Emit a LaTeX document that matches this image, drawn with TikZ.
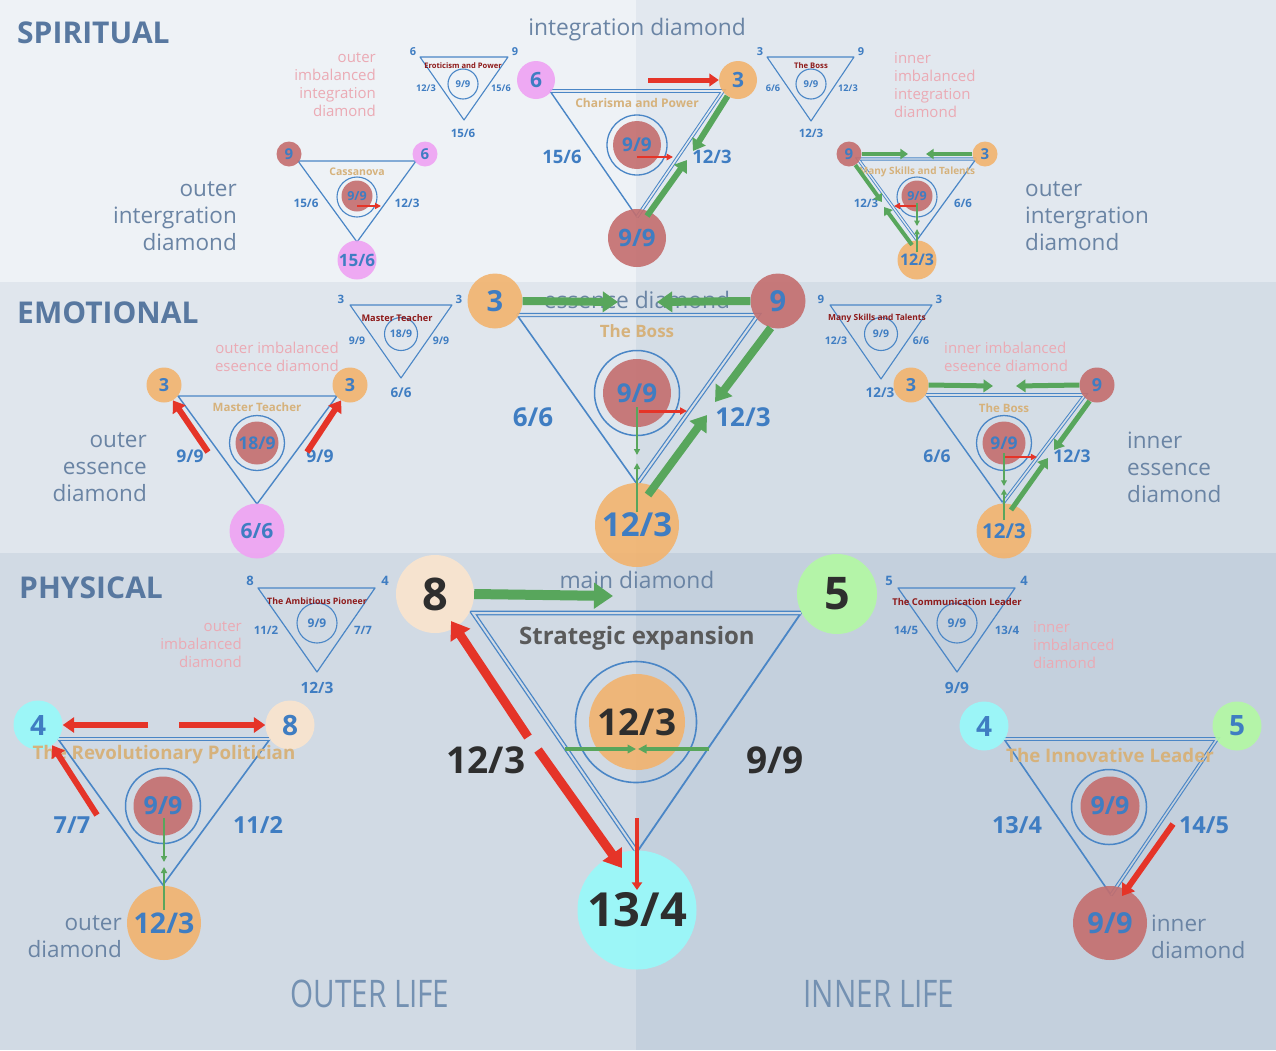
\documentclass[tikz,border=0pt]{standalone}
\usepackage{fontspec}
\setmainfont{Open Sans}
\usetikzlibrary{calc,arrows.meta}
% band colours
\definecolor{bg-sl}{HTML}{EEF2F6}
\definecolor{bg-sr}{HTML}{E2E8EF}
\definecolor{bg-el}{HTML}{E0E6ED}
\definecolor{bg-er}{HTML}{D4DDE6}
\definecolor{bg-pl}{HTML}{D1DAE4}
\definecolor{bg-pr}{HTML}{C4D0DD}
% ink
\definecolor{dm-blue}{HTML}{3F7DC2}
\definecolor{dm-line}{HTML}{4A86C6}
\definecolor{dm-head}{HTML}{5878A0}
\definecolor{dm-side}{HTML}{6A84A4}
\definecolor{dm-life}{HTML}{7491B2}
\definecolor{dm-pinktext}{HTML}{EBAAB4}
\definecolor{dm-gold}{HTML}{D6B27C}
\definecolor{dm-title}{HTML}{8E1A1A}
\definecolor{dm-dark}{HTML}{2E2E2E}
\definecolor{dm-gray}{HTML}{5A5A5A}
% dots
\definecolor{dm-pink}{HTML}{EFA2F3}
\definecolor{dm-orange}{HTML}{F2B36E}
\definecolor{dm-rose}{HTML}{C46E6E}
\definecolor{dm-cyan}{HTML}{97FAFA}
\definecolor{dm-lime}{HTML}{B3F9A3}
\definecolor{dm-peach}{HTML}{FBE5CD}
\definecolor{dm-red}{HTML}{E53428}
\definecolor{dm-green}{HTML}{58A65C}
\newcommand\fsz[1]{\fontsize{#1}{#1}\selectfont}
\tikzset{
  triedge/.style={draw=dm-line, line width=1.4pt, line join=round},
  edgepair/.style={draw=dm-line, line width=1pt, double=#1, double distance=1.6pt},
  vtx/.style={circle, inner sep=0pt, minimum size=#1, fill opacity=0.9, text opacity=1},
  hubring/.style={circle, draw=dm-line, line width=1.3pt, inner sep=0pt, minimum size=#1},
  val/.style={text=dm-blue, font=\bfseries\fsz{#1}},
  darkval/.style={text=dm-dark, font=\bfseries\fsz{#1}},
  goldname/.style={text=dm-gold, font=\bfseries\fsz{#1}},
  tinyname/.style={text=dm-title, font=\bfseries\fsz{#1}},
  sectname/.style={text=dm-head, font=\bfseries\fsz{30}, anchor=west, inner sep=0pt},
  headname/.style={text=dm-side, font=\fsz{22.8}},
  sidename/.style={text=dm-side, font=\fontsize{22.5}{27}\selectfont, inner sep=0pt},
  faded/.style={text=dm-pinktext, font=\fontsize{15}{18}\selectfont, inner sep=0pt},
  lifename/.style={text=dm-life, font=\fsz{38}},
  garr/.style={draw=dm-green, line width=#1, -{Triangle[length=0pt 1.9, width=0pt 2.5]}},
  rarr/.style={draw=dm-red, line width=#1, -{Triangle[length=0pt 1.9, width=0pt 2.5]}},
  gtick/.style={draw=dm-green, line width=#1, -{Triangle[length=4pt 1, width=4pt 1]}},
  rtick/.style={draw=dm-red, line width=#1, -{Triangle[length=4pt 1, width=4pt 1]}},
}
\begin{document}
\begin{tikzpicture}[x=1pt, y=-1pt]
% bands
\fill[bg-sl] (0,0) rectangle (636,282);
\fill[bg-sr] (636,0) rectangle (1276,282);
\fill[bg-el] (0,282) rectangle (636,553);
\fill[bg-er] (636,282) rectangle (1276,553);
\fill[bg-pl] (0,553) rectangle (636,1050);
\fill[bg-pr] (636,553) rectangle (1276,1050);
\useasboundingbox (0,0) rectangle (1276,1050);

% headings and side labels
\node[sectname] (spiritual) at (17,33) {SPIRITUAL};
\node[sectname] (emotional) at (17,313) {EMOTIONAL};
\node[sectname] (physical) at (19,588) {PHYSICAL};
\node[headname] (integration) at (637,30) {integration diamond};
\node[headname] (essence) at (637,300) {essence diamond};
\node[headname] (maindia) at (637,580) {main diamond};
\node[sidename, align=right, anchor=east] (sl-side) at (237,216) {outer\\intergration\\diamond};
\node[sidename, align=left, anchor=west] (sr-side) at (1025,216) {outer\\intergration\\diamond};
\node[sidename, align=right, anchor=east] (el-side) at (147,467) {outer\\essence\\diamond};
\node[sidename, align=left, anchor=west] (er-side) at (1127,467) {inner\\essence\\diamond};
\node[sidename, align=right, anchor=east] (pl-side) at (122,937) {outer\\diamond};
\node[sidename, align=left, anchor=west] (pr-side) at (1151,937) {inner\\diamond};
\node[faded, align=right, anchor=east] (sl-imb) at (376,85) {outer\\imbalanced\\integration\\diamond};
\node[faded, align=left, anchor=west] (sr-imb) at (894,85) {inner\\imbalanced\\integration\\diamond};
\node[faded, align=right, anchor=east] (el-imb) at (339,357) {outer imbalanced\\eseence diamond};
\node[faded, align=left, anchor=west] (er-imb) at (944,357) {inner imbalanced\\eseence diamond};
\node[faded, align=right, anchor=east] (pl-imb) at (242,645) {outer\\imbalanced\\diamond};
\node[faded, align=left, anchor=west] (pr-imb) at (1033,645) {inner\\imbalanced\\diamond};
\node[lifename] (outerlife) at (370,994) {\scalebox{0.78}[1]{OUTER LIFE}};
\node[lifename] (innerlife) at (879,994) {\scalebox{0.78}[1]{INNER LIFE}};

%% SPIRITUAL
% Eroticism and Power
\coordinate (ero-a) at (420,57); \coordinate (ero-b) at (508,57); \coordinate (ero-c) at (464,120);
\draw[triedge, line width=1.1pt] (ero-a) -- (ero-b) -- (ero-c) -- cycle;
\node[hubring=30pt, line width=1.1pt, val=9.5] (ero-hub) at (463,84) {9/9};
\node[tinyname=7.6] (ero-name) at (463,66) {Eroticism and Power};
\node[val=11] (ero-6) at (413,52) {6};
\node[val=11] (ero-9) at (515,52) {9};
\node[val=9.2] (ero-l) at (426,88) {12/3};
\node[val=9.2] (ero-r) at (501,88) {15/6};
\node[val=11.5] (ero-bot) at (463,133) {15/6};

% Cassanova
\coordinate (cas-a) at (298,161); \coordinate (cas-b) at (416,161); \coordinate (cas-c) at (357,242);
\draw[triedge, line width=1.2pt] (cas-a) -- (cas-b) -- (cas-c) -- cycle;
\node[hubring=40pt, line width=1.1pt] (cas-ring) at (357,197) {};
\node[vtx=31pt, fill=dm-rose, val=12.5] (cas-hub) at (357,196) {9/9};
\node[vtx=25pt, fill=dm-rose, val=15] (cas-9) at (289,154) {9};
\node[vtx=25pt, fill=dm-pink, val=15] (cas-6) at (425,154) {6};
\node[vtx=39pt, fill=dm-pink, val=17] (cas-156) at (357,260) {15/6};
\node[goldname=10.5] (cas-name) at (357,172) {Cassanova};
\node[val=11.7] (cas-l) at (306,203) {15/6};
\node[val=11.7] (cas-r) at (407,203) {12/3};
\coordinate (cas-r1a) at (357,206); \coordinate (cas-r1b) at (381,206);
\draw[rtick=2pt] (cas-r1a) -- (cas-r1b);

% Charisma and Power
\coordinate (cha-a) at (550,91); \coordinate (cha-b) at (723,91); \coordinate (cha-c) at (637,217);
\draw[triedge] (cha-a) -- (cha-b) -- (cha-c) -- cycle;
\draw[edgepair=bg-sr] (cha-a) -- (cha-b) -- (cha-c);
\node[hubring=60pt] (cha-ring) at (637,145) {};
\node[vtx=48pt, fill=dm-rose, val=19] (cha-hub) at (637,145) {9/9};
\node[vtx=38pt, fill=dm-pink, val=21] (cha-6) at (536,80) {6};
\node[vtx=38pt, fill=dm-orange, val=21] (cha-3) at (738,80) {3};
\node[vtx=58pt, fill=dm-rose, val=24] (cha-99) at (637,238) {9/9};
\node[goldname=12] (cha-name) at (637,103) {Charisma and Power};
\node[val=18.5] (cha-l) at (562,157) {15/6};
\node[val=18.5] (cha-r) at (712,157) {12/3};
\coordinate (cha-r1) at (648,80);
\coordinate (cha-g1) at (693,151);
\coordinate (cha-g2a) at (647,216); \coordinate (cha-g2b) at (687,160);
\coordinate (cha-r2a) at (637,157); \coordinate (cha-r2b) at (673,157);
\draw[rarr=5pt] (cha-r1) -- (cha-3.west);
\draw[garr=6pt] (cha-3.237) -- (cha-g1);
\draw[garr=6pt] (cha-g2a) -- (cha-g2b);
\draw[rtick=2.5pt] (cha-r2a) -- (cha-r2b);

% The Boss (small)
\coordinate (bss-a) at (767,57); \coordinate (bss-b) at (854,57); \coordinate (bss-c) at (811,121);
\draw[triedge, line width=1.1pt] (bss-a) -- (bss-b) -- (bss-c) -- cycle;
\node[hubring=30pt, line width=1.1pt, val=9.5] (bss-hub) at (811,84) {9/9};
\node[tinyname=7.7] (bss-name) at (811,66) {The Boss};
\node[val=11] (bss-3) at (760,52) {3};
\node[val=11] (bss-9) at (861,52) {9};
\node[val=9.2] (bss-l) at (773,88) {6/6};
\node[val=9.2] (bss-r) at (848,88) {12/3};
\node[val=11.5] (bss-bot) at (811,133) {12/3};

% Many Skills and Talents
\coordinate (mst-a) at (858,159); \coordinate (mst-b) at (976,159); \coordinate (mst-c) at (917,240);
\draw[triedge, line width=1.2pt] (mst-a) -- (mst-b) -- (mst-c) -- cycle;
\draw[edgepair=bg-sr, line width=0.9pt, double distance=1.4pt] (mst-c) -- (mst-a) -- (mst-b);
\node[hubring=40pt, line width=1.1pt] (mst-ring) at (917,197) {};
\node[vtx=31pt, fill=dm-rose, val=12.5] (mst-hub) at (917,196) {9/9};
\node[vtx=25pt, fill=dm-rose, val=15] (mst-9) at (849,154) {9};
\node[vtx=25pt, fill=dm-orange, val=15] (mst-3) at (985,154) {3};
\node[vtx=39pt, fill=dm-orange, val=16] (mst-123) at (917,260) {12/3};
\node[goldname=10] (mst-name) at (917,172) {Many Skills and Talents};
\node[val=11.5] (mst-l) at (866,203) {12/3};
\node[val=11.5] (mst-r) at (963,203) {6/6};
\coordinate (mst-g1) at (908,154); \coordinate (mst-g2) at (926,154);
\coordinate (mst-g3) at (882,202);
\coordinate (mst-g4a) at (912,245); \coordinate (mst-g4b) at (884,207);
\coordinate (mst-r1a) at (916,206); \coordinate (mst-r1b) at (894,206);
\coordinate (mst-t1a) at (917,203); \coordinate (mst-t1b) at (917,226);
\coordinate (mst-t2a) at (917,252); \coordinate (mst-t2b) at (917,229);
\draw[garr=4pt] (mst-9.east) -- (mst-g1);
\draw[garr=4pt] (mst-3.west) -- (mst-g2);
\draw[garr=4pt] (mst-9.300) -- (mst-g3);
\draw[garr=4pt] (mst-g4a) -- (mst-g4b);
\draw[rtick=2pt] (mst-r1a) -- (mst-r1b);
\draw[gtick=1.4pt] (mst-t1a) -- (mst-t1b);
\draw[gtick=1.4pt] (mst-t2a) -- (mst-t2b);

%% EMOTIONAL
% Master Teacher (small)
\coordinate (mts-a) at (350,305); \coordinate (mts-b) at (452,305); \coordinate (mts-c) at (401,378);
\draw[triedge, line width=1.1pt] (mts-a) -- (mts-b) -- (mts-c) -- cycle;
\node[hubring=33pt, line width=1.1pt, val=10.5] (mts-hub) at (401,334) {18/9};
\node[tinyname=9.2] (mts-name) at (397,318) {Master Teacher};
\node[val=11.5] (mts-3a) at (341,299) {3};
\node[val=11.5] (mts-3b) at (459,299) {3};
\node[val=10.5] (mts-l) at (357,341) {9/9};
\node[val=10.5] (mts-r) at (441,341) {9/9};
\node[val=13.5] (mts-bot) at (401,393) {6/6};

% Master Teacher
\coordinate (mtb-a) at (178,396); \coordinate (mtb-b) at (337,396); \coordinate (mtb-c) at (257,504);
\draw[triedge] (mtb-a) -- (mtb-b) -- (mtb-c) -- cycle;
\node[hubring=55pt] (mtb-ring) at (257,443) {};
\node[vtx=43pt, fill=dm-rose, val=17.5] (mtb-hub) at (257,443) {18/9};
\node[vtx=35pt, fill=dm-orange, val=18] (mtb-3a) at (164,385) {3};
\node[vtx=35pt, fill=dm-orange, val=18] (mtb-3b) at (350,385) {3};
\node[vtx=55pt, fill=dm-pink, val=21] (mtb-66) at (257,531) {6/6};
\node[goldname=11.5] (mtb-name) at (257,407) {Master Teacher};
\node[val=17.5] (mtb-l) at (190,456) {9/9};
\node[val=17.5] (mtb-r) at (320,456) {9/9};
\coordinate (mtb-r1) at (208,452); \coordinate (mtb-r2) at (307,452);
\draw[rarr=6pt] (mtb-r1) -- (mtb-3a.300);
\draw[rarr=6pt] (mtb-r2) -- (mtb-3b.240);

% The Boss
\coordinate (bos-a) at (517,315); \coordinate (bos-b) at (758,315); \coordinate (bos-c) at (637,484);
\draw[triedge, line width=1.6pt] (bos-a) -- (bos-b) -- (bos-c) -- cycle;
\draw[edgepair=bg-er, line width=1.2pt, double distance=2pt] (bos-a) -- (bos-b) -- (bos-c);
\node[hubring=85pt, line width=1.5pt] (bos-ring) at (637,393) {};
\node[vtx=68pt, fill=dm-rose, val=26] (bos-hub) at (637,393) {9/9};
\node[vtx=55pt, fill=dm-orange, val=29] (bos-3) at (495,301) {3};
\node[vtx=55pt, fill=dm-rose, val=29] (bos-9) at (778,301) {9};
\node[vtx=84pt, fill=dm-orange, val=33] (bos-123) at (637,525) {12/3};
\node[goldname=17] (bos-name) at (637,331) {The Boss};
\node[val=26] (bos-l) at (533,417) {6/6};
\node[val=26] (bos-r) at (743,417) {12/3};
\coordinate (bos-g1) at (618,302); \coordinate (bos-g2) at (657,302);
\coordinate (bos-g3) at (715,402);
\coordinate (bos-g4a) at (648,495); \coordinate (bos-g4b) at (707,415);
\coordinate (bos-r1a) at (639,411); \coordinate (bos-r1b) at (687,411);
\coordinate (bos-t1a) at (637,407); \coordinate (bos-t1b) at (637,455);
\coordinate (bos-t2a) at (637,512); \coordinate (bos-t2b) at (637,463);
\draw[garr=8pt] (bos-3.east) -- (bos-g1);
\draw[garr=8pt] (bos-9.west) -- (bos-g2);
\draw[garr=8pt] (bos-9.255) -- (bos-g3);
\draw[garr=8pt] (bos-g4a) -- (bos-g4b);
\draw[rtick=3pt] (bos-r1a) -- (bos-r1b);
\draw[gtick=2pt] (bos-t1a) -- (bos-t1b);
\draw[gtick=2pt] (bos-t2a) -- (bos-t2b);

% Many Skills and Talents (small)
\coordinate (mse-a) at (830,305); \coordinate (mse-b) at (932,305); \coordinate (mse-c) at (881,379);
\draw[triedge, line width=1.1pt] (mse-a) -- (mse-b) -- (mse-c) -- cycle;
\node[hubring=33pt, line width=1.1pt, val=10.5] (mse-hub) at (881,334) {9/9};
\node[tinyname=8.4] (mse-name) at (877,318) {Many Skills and Talents};
\node[val=11.5] (mse-9) at (821,299) {9};
\node[val=11.5] (mse-3) at (939,299) {3};
\node[val=10.5] (mse-l) at (836,341) {12/3};
\node[val=10.5] (mse-r) at (921,341) {6/6};
\node[val=13.5] (mse-bot) at (880,393) {12/3};

% The Boss (inner)
\coordinate (bor-a) at (926,395); \coordinate (bor-b) at (1085,395); \coordinate (bor-c) at (1003,503);
\draw[triedge] (bor-a) -- (bor-b) -- (bor-c) -- cycle;
\draw[edgepair=bg-er] (bor-a) -- (bor-b) -- (bor-c);
\node[hubring=55pt] (bor-ring) at (1004,443) {};
\node[vtx=43pt, fill=dm-rose, val=17.5] (bor-hub) at (1004,443) {9/9};
\node[vtx=35pt, fill=dm-orange, val=18] (bor-3) at (911,385) {3};
\node[vtx=35pt, fill=dm-rose, val=18] (bor-9) at (1097,385) {9};
\node[vtx=55pt, fill=dm-orange, val=20.5] (bor-123) at (1004,531) {12/3};
\node[goldname=11.5] (bor-name) at (1004,408) {The Boss};
\node[val=17.5] (bor-l) at (937,456) {6/6};
\node[val=17.5] (bor-r) at (1072,456) {12/3};
\coordinate (bor-g1) at (993,386); \coordinate (bor-g2) at (1016,386);
\coordinate (bor-g3) at (1054,450);
\coordinate (bor-g4a) at (1011,510); \coordinate (bor-g4b) at (1048,458);
\coordinate (bor-r1a) at (1005,457); \coordinate (bor-r1b) at (1037,457);
\coordinate (bor-t1a) at (1004,453); \coordinate (bor-t1b) at (1004,486);
\coordinate (bor-t2a) at (1004,520); \coordinate (bor-t2b) at (1004,489);
\draw[garr=5pt] (bor-3.east) -- (bor-g1);
\draw[garr=5pt] (bor-9.west) -- (bor-g2);
\draw[garr=5pt] (bor-9.245) -- (bor-g3);
\draw[garr=5pt] (bor-g4a) -- (bor-g4b);
\draw[rtick=2.2pt] (bor-r1a) -- (bor-r1b);
\draw[gtick=1.6pt] (bor-t1a) -- (bor-t1b);
\draw[gtick=1.6pt] (bor-t2a) -- (bor-t2b);

%% PHYSICAL
% The Ambitious Pioneer (small)
\coordinate (amb-a) at (258,588); \coordinate (amb-b) at (375,588); \coordinate (amb-c) at (317,672);
\draw[triedge, line width=1.2pt] (amb-a) -- (amb-b) -- (amb-c) -- cycle;
\node[hubring=40pt, line width=1.1pt, val=12] (amb-hub) at (317,623) {9/9};
\node[tinyname=8.8] (amb-name) at (317,601) {The Ambitious Pioneer};
\node[val=13] (amb-8) at (250,581) {8};
\node[val=13] (amb-4) at (385,581) {4};
\node[val=11.5] (amb-l) at (266,630) {11/2};
\node[val=11.5] (amb-r) at (363,630) {7/7};
\node[val=15.5] (amb-bot) at (317,688) {12/3};

% The Revolutionary Politician
\coordinate (rev-a) at (58,739); \coordinate (rev-b) at (270,739); \coordinate (rev-c) at (163,885);
\draw[triedge, line width=1.6pt] (rev-a) -- (rev-b) -- (rev-c) -- cycle;
\draw[edgepair=bg-pl, line width=1.1pt] (rev-a) -- (rev-b);
\node[hubring=75pt, line width=1.5pt] (rev-ring) at (163,806) {};
\node[vtx=59pt, fill=dm-rose, val=25] (rev-hub) at (163,806) {9/9};
\node[vtx=49pt, fill=dm-cyan, val=28] (rev-4) at (38,725) {4};
\node[vtx=49pt, fill=dm-peach, val=28] (rev-8) at (290,725) {8};
\node[vtx=74pt, fill=dm-orange, val=28.5] (rev-123) at (164,923) {12/3};
\node[goldname=18.7] (rev-name) at (164,755) {The Revolutionary Politician};
\node[val=23.5] (rev-l) at (72,825) {7/7};
\node[val=23.5] (rev-r) at (258,825) {11/2};
\coordinate (rev-r1) at (148,725); \coordinate (rev-r2) at (179,725);
\coordinate (rev-r3) at (97,815);
\coordinate (rev-t1a) at (164,818); \coordinate (rev-t1b) at (164,862);
\coordinate (rev-t2a) at (164,910); \coordinate (rev-t2b) at (164,867);
\draw[rarr=6pt] (rev-r1) -- (rev-4.east);
\draw[rarr=6pt] (rev-r2) -- (rev-8.west);
\draw[rarr=6pt] (rev-r3) -- (rev-4.305);
\draw[gtick=2pt] (rev-t1a) -- (rev-t1b);
\draw[gtick=2pt] (rev-t2a) -- (rev-t2b);

% Strategic expansion
\coordinate (mdm-a) at (473,613); \coordinate (mdm-b) at (801,613); \coordinate (mdm-c) at (637,852);
\draw[triedge, line width=1.8pt] (mdm-a) -- (mdm-b) -- (mdm-c) -- cycle;
\draw[edgepair=bg-pl, line width=1.3pt, double distance=2pt] (mdm-c) -- (mdm-a) -- (mdm-b);
\node[hubring=121pt, line width=1.6pt] (mdm-ring) at (636,722) {};
\node[vtx=96pt, fill=dm-orange, darkval=37] (mdm-hub) at (637,722) {12/3};
\node[vtx=78pt, fill=dm-peach, darkval=45] (mdm-8) at (435,594) {8};
\node[vtx=80pt, fill=dm-lime, darkval=45] (mdm-5) at (837,594) {5};
\node[vtx=119pt, fill=dm-cyan, darkval=47] (mdm-134) at (637,910) {13/4};
\node[text=dm-gray, font=\bfseries\fsz{24}] (mdm-name) at (637,638) {Strategic expansion};
\node[darkval=37] (mdm-l) at (486,760) {12/3};
\node[darkval=37] (mdm-r) at (775,760) {9/9};
\coordinate (mdm-g1) at (613,596);
\coordinate (mdm-r1a) at (528,737); \coordinate (mdm-r1b) at (451,621);
\coordinate (mdm-r2a) at (538,750); \coordinate (mdm-r2b) at (622,868);
\coordinate (mdm-r3a) at (637,818); \coordinate (mdm-r3b) at (637,890);
\coordinate (mdm-t1a) at (565,749); \coordinate (mdm-t1b) at (636,749);
\coordinate (mdm-t2a) at (709,749); \coordinate (mdm-t2b) at (638,749);
\draw[garr=10pt] (mdm-8.east) -- (mdm-g1);
\draw[rarr=9pt] (mdm-r1a) -- (mdm-r1b);
\draw[rarr=9pt] (mdm-r2a) -- (mdm-r2b);
\draw[rarr=4pt] (mdm-r3a) -- (mdm-r3b);
\draw[gtick=4.5pt] (mdm-t1a) -- (mdm-t1b);
\draw[gtick=4.5pt] (mdm-t2a) -- (mdm-t2b);

% The Communication Leader (small)
\coordinate (com-a) at (898,588); \coordinate (com-b) at (1015,588); \coordinate (com-c) at (957,672);
\draw[triedge, line width=1.2pt] (com-a) -- (com-b) -- (com-c) -- cycle;
\node[hubring=40pt, line width=1.1pt, val=12] (com-hub) at (957,623) {9/9};
\node[tinyname=9.4] (com-name) at (957,602) {The Communication Leader};
\node[val=13] (com-5) at (889,581) {5};
\node[val=13] (com-4) at (1024,581) {4};
\node[val=11.5] (com-l) at (906,630) {14/5};
\node[val=11.5] (com-r) at (1007,630) {13/4};
\node[val=15.5] (com-bot) at (957,688) {9/9};

% The Innovative Leader
\coordinate (inn-a) at (1004,739); \coordinate (inn-b) at (1217,739); \coordinate (inn-c) at (1111,895);
\draw[triedge, line width=1.6pt] (inn-a) -- (inn-b) -- (inn-c) -- cycle;
\draw[edgepair=bg-pr, line width=1.1pt] (inn-a) -- (inn-b) -- (inn-c);
\node[hubring=75pt, line width=1.5pt] (inn-ring) at (1109,807) {};
\node[vtx=59pt, fill=dm-rose, val=25] (inn-hub) at (1110,806) {9/9};
\node[vtx=49pt, fill=dm-cyan, val=28] (inn-4) at (984,726) {4};
\node[vtx=49pt, fill=dm-lime, val=28] (inn-5) at (1237,726) {5};
\node[vtx=74pt, fill=dm-rose, val=29] (inn-99) at (1110,923) {9/9};
\node[goldname=18.7] (inn-name) at (1110,755) {The Innovative Leader};
\node[val=23.5] (inn-l) at (1017,825) {13/4};
\node[val=23.5] (inn-r) at (1204,825) {14/5};
\coordinate (inn-r1a) at (1173,824); \coordinate (inn-r1b) at (1122,896);
\draw[rarr=6pt] (inn-r1a) -- (inn-r1b);
\end{tikzpicture}
\end{document}
